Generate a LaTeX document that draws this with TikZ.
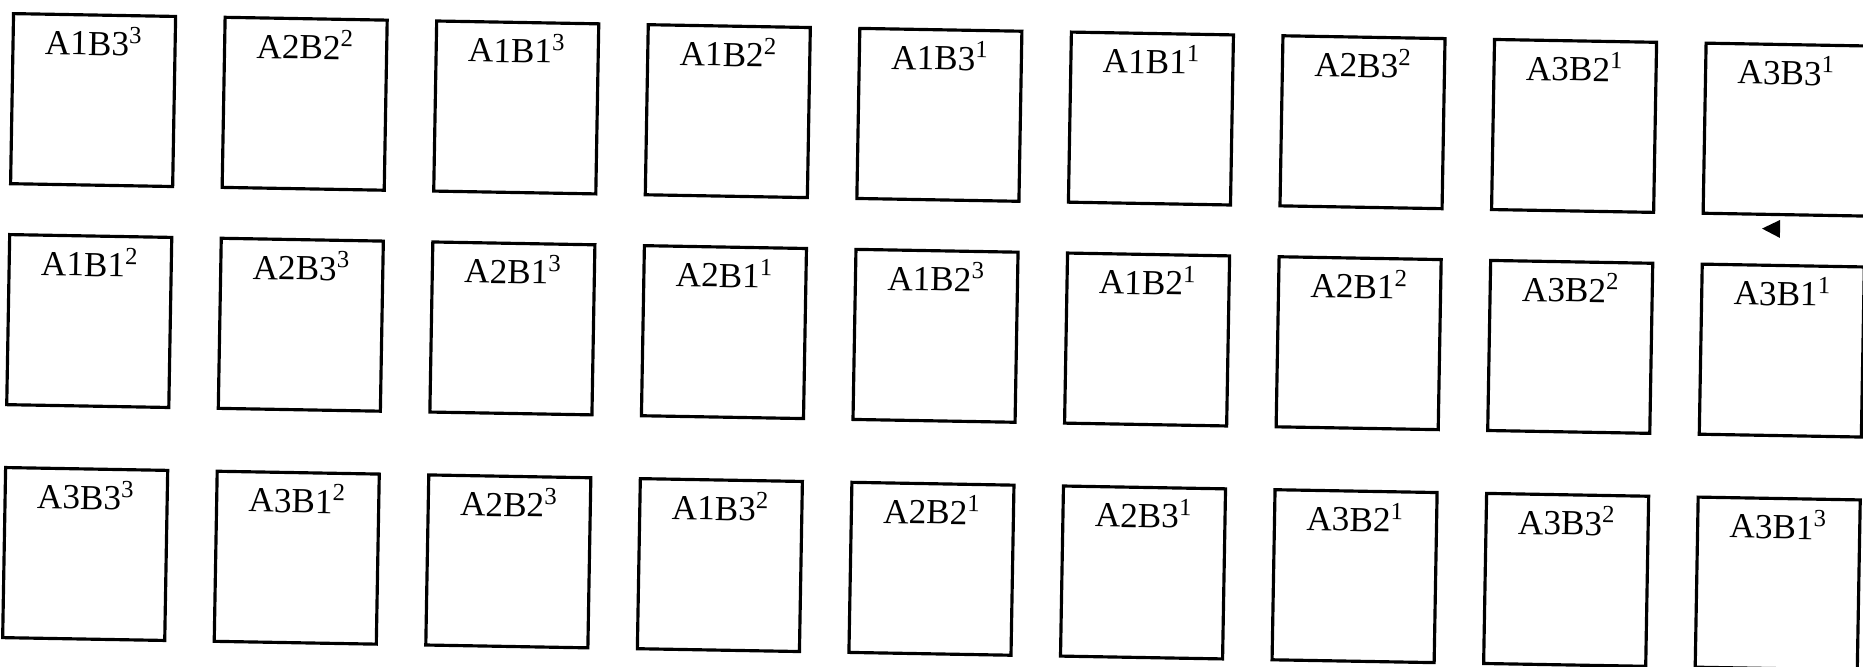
\documentclass[tikz,border=0pt]{standalone}
\usepackage{fontspec}
\setmainfont{Liberation Serif}
\usetikzlibrary{shapes.geometric}

\begin{document}
\begin{tikzpicture}[
    x=0.01cm, y=-0.01cm, % pixel-like units, (0,0) at top left
    cell/.style={draw, line width=0.9pt, inner sep=0pt, anchor=north west,
                 minimum width=1.62cm, minimum height=1.70cm},
    tag/.style={anchor=north, inner sep=0pt, yshift=-0.12cm,
                font=\fontsize{10}{11}\selectfont},
    marker/.style={isosceles triangle, isosceles triangle stretches,
                   shape border rotate=180, fill, inner sep=0pt,
                   minimum width=0.18cm, minimum height=0.18cm}
]
\useasboundingbox (0,0) rectangle (1863,666);
\begin{scope}[shift={(12,12)}, rotate=-1, transform shape] % the sheet sits a little askew
\def\pitch{211.6}
\foreach \r/\top/\cells in {
    1/0/{A1B3/3, A2B2/2, A1B1/3, A1B2/2, A1B3/1, A1B1/1, A2B3/2, A3B2/1, A3B3/1},
    2/221/{A1B1/2, A2B3/3, A2B1/3, A2B1/1, A1B2/3, A1B2/1, A2B1/2, A3B2/2, A3B1/1},
    3/454/{A3B3/3, A3B1/2, A2B2/3, A1B3/2, A2B2/1, A2B3/1, A3B2/1, A3B3/2, A3B1/3}} {
    \foreach \lab/\nr [count=\c] in \cells {
        \node[cell, label={[tag]north:\lab\textsuperscript{\nr}}]
            (cell-\r-\c) at ({(\c-1)*\pitch},\top) {};
    }
}
\node[marker] (turn) at (1766,186) {};
\end{scope}
\end{tikzpicture}
\end{document}
